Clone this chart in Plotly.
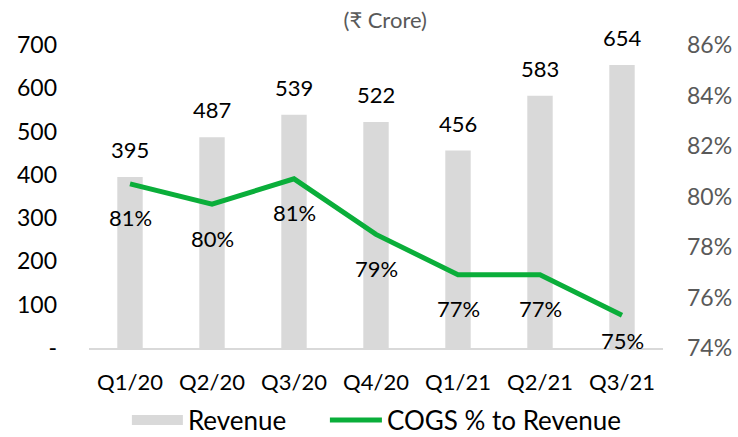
import plotly.graph_objects as go

quarters = ["Q1/20", "Q2/20", "Q3/20", "Q4/20", "Q1/21", "Q2/21", "Q3/21"]
revenue = [395, 487, 539, 522, 456, 583, 654]
cogs_pct = [80.5, 79.7, 80.7, 78.5, 76.9, 76.9, 75.3]
cogs_labels = ["81%", "80%", "81%", "79%", "77%", "77%", "75%"]
left_ticks = [0, 100, 200, 300, 400, 500, 600, 700]
left_ticktext = ["-", "100", "200", "300", "400", "500", "600", "700"]
right_ticks = [74, 76, 78, 80, 82, 84, 86]
right_ticktext = ["74%", "76%", "78%", "80%", "82%", "84%", "86%"]

# label offsets (style): last label sits closer to the line (clamped at plot floor)
line_label_shift = [-34, -34, -34, -34, -34, -34, -25]

FONT = "Lato, 'Open Sans', sans-serif"
GREEN = "#0aae3a"
GRAY = "#d9d9d9"
LEGEND_FONT = dict(size=26, color="#000000", family=FONT)

fig = go.Figure()
fig.add_trace(go.Bar(
    x=quarters, y=revenue, name="Revenue",
    marker=dict(color=GRAY, line=dict(width=0)),
    width=0.31, showlegend=False,
))
# legend swatch for revenue (wide gray rectangle)
fig.add_trace(go.Scatter(
    x=[None], y=[None], name="Revenue", mode="lines",
    line=dict(color=GRAY, width=13), showlegend=True, legend="legend",
))
fig.add_trace(go.Scatter(
    x=quarters, y=cogs_pct, name="COGS % to Revenue", yaxis="y2",
    mode="lines",
    line=dict(color=GREEN, width=5),
    cliponaxis=False, legend="legend2",
))

annotations = []
for q, v in zip(quarters, revenue):
    annotations.append(dict(
        x=q, y=v, xref="x", yref="y", text=str(v), showarrow=False,
        yanchor="bottom", yshift=12,
        font=dict(size=22, color="#000000", family=FONT),
    ))
for q, v, t, s in zip(quarters, cogs_pct, cogs_labels, line_label_shift):
    annotations.append(dict(
        x=q, y=v, xref="x", yref="y2", text=t, showarrow=False,
        yanchor="middle", yshift=s,
        font=dict(size=22, color="#000000", family=FONT),
    ))

fig.update_layout(
    width=738, height=437,
    margin=dict(l=89, r=75, t=45, b=89, autoexpand=False),
    paper_bgcolor="white", plot_bgcolor="white",
    font=dict(family=FONT, color="#000000"),
    title=dict(text="(₹ Crore)", x=0.522, xanchor="center", y=0.972, yanchor="top",
               font=dict(size=22, color="#595959", family=FONT)),
    showlegend=True,
    legend=dict(orientation="h", x=0.066, xanchor="left", y=-0.238, yanchor="middle",
                font=LEGEND_FONT, bgcolor="rgba(0,0,0,0)", itemwidth=51),
    legend2=dict(orientation="h", x=0.411, xanchor="left", y=-0.238, yanchor="middle",
                 font=LEGEND_FONT, bgcolor="rgba(0,0,0,0)", itemwidth=52),
    annotations=annotations,
    xaxis=dict(
        showgrid=False, showline=True, linecolor=GRAY, linewidth=1.5,
        ticks="", tickfont=dict(size=22, color="#000000", family=FONT),
        ticklabelstandoff=14, automargin=False,
    ),
    yaxis=dict(
        range=[0, 700], tickvals=left_ticks, ticktext=left_ticktext,
        showgrid=False, zeroline=False, showline=False,
        tickfont=dict(size=23, color="#000000", family=FONT),
        ticklabelstandoff=31, automargin=False,
    ),
    yaxis2=dict(
        range=[74, 86], tickvals=right_ticks, ticktext=right_ticktext,
        overlaying="y", side="right",
        showgrid=False, zeroline=False, showline=False,
        tickfont=dict(size=23, color="#595959", family=FONT),
        ticklabelstandoff=23, automargin=False,
    ),
)

fig.write_html("out.html", config={"displayModeBar": False},
               post_script="document.body.style.margin='0';")
